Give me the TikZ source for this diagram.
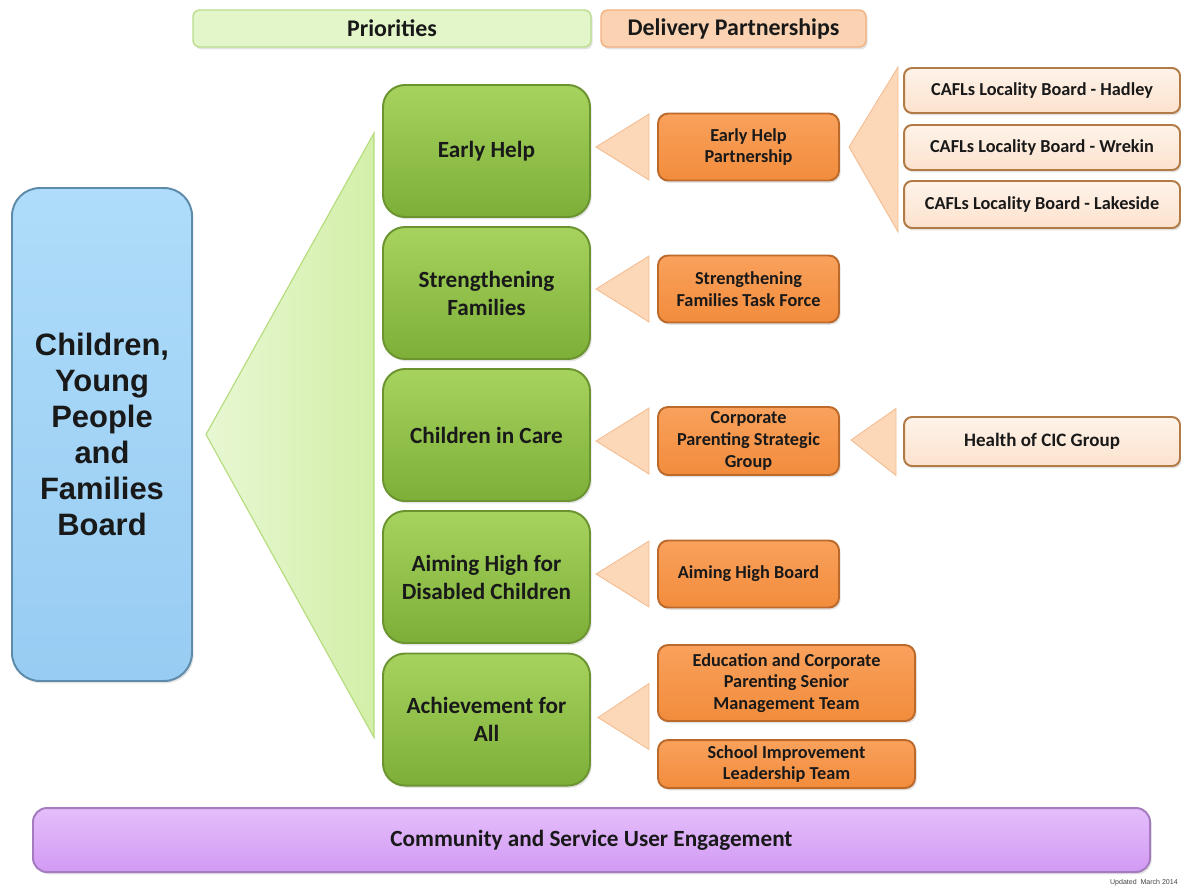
\documentclass[tikz,border=0pt]{standalone}
\usepackage{fontspec}
\setmainfont{Carlito}
\newfontfamily\boardfont{Liberation Sans}
\usetikzlibrary{calc,shadows}

\definecolor{hdrGreen}{HTML}{E3F6C9}
\definecolor{hdrGreenLine}{HTML}{B9DD8C}
\definecolor{hdrPeach}{HTML}{FBD3B2}
\definecolor{hdrPeachLine}{HTML}{F2B180}
\definecolor{boardTop}{HTML}{AEDCFA}
\definecolor{boardBot}{HTML}{98CCF2}
\definecolor{boardLine}{HTML}{5E8BAA}
\definecolor{prioTop}{HTML}{A6D35E}
\definecolor{prioBot}{HTML}{7DAF38}
\definecolor{prioLine}{HTML}{6B9430}
\definecolor{fanLight}{HTML}{E8F7D3}
\definecolor{fanDark}{HTML}{D3EFA8}
\definecolor{fanLine}{HTML}{B4DC7C}
\definecolor{partTop}{HTML}{F9A15C}
\definecolor{partBot}{HTML}{F28C3C}
\definecolor{partLine}{HTML}{BC6A2C}
\definecolor{wedgeFill}{HTML}{FCD7B8}
\definecolor{wedgeLine}{HTML}{F3BC90}
\definecolor{localTop}{HTML}{FEF3EA}
\definecolor{localBot}{HTML}{FCE2CD}
\definecolor{localLine}{HTML}{B27A45}
\definecolor{engTop}{HTML}{E4BEFA}
\definecolor{engBot}{HTML}{D29AF4}
\definecolor{engLine}{HTML}{A57BC0}

% one unit of the picture
\def\u{0.025cm}

\tikzset{
    box/.style={align=center, text=black!90, line width=1.4pt,
        drop shadow={opacity=.22, shadow xshift=1.2pt, shadow yshift=-1.6pt}},
    header/.style={box, line width=1pt, rounded corners=0.17cm, minimum height=37*\u,
        font=\fontsize{17}{20}\selectfont\bfseries},
    board/.style={box, draw=boardLine, top color=boardTop, bottom color=boardBot,
        rounded corners=0.7cm, minimum width=180*\u, minimum height=493*\u,
        font=\boardfont\fontsize{22}{25.5}\selectfont\bfseries},
    prio/.style={box, draw=prioLine, top color=prioTop, bottom color=prioBot,
        rounded corners=0.55cm, minimum width=207*\u, minimum height=132*\u,
        font=\fontsize{16.5}{20}\selectfont\bfseries},
    partner/.style={box, draw=partLine, top color=partTop, bottom color=partBot,
        rounded corners=0.25cm, minimum width=181*\u, minimum height=67*\u,
        font=\fontsize{13}{15.5}\selectfont\bfseries},
    local/.style={box, draw=localLine, top color=localTop, bottom color=localBot,
        rounded corners=0.2cm, minimum width=276*\u, minimum height=46*\u,
        font=\fontsize{13}{15.5}\selectfont\bfseries},
    wedge/.style={fill=wedgeFill, draw=wedgeLine, line width=0.6pt}
}

\begin{document}
\begin{tikzpicture}[x=0.025cm, y=-0.025cm]
    \useasboundingbox (0,0) rectangle (1181,889);

    % column headers
    \node[header, fill=hdrGreen, draw=hdrGreenLine, minimum width=398*\u] (prio) at (392,28.5) {Priorities};
    \node[header, fill=hdrPeach, draw=hdrPeachLine, minimum width=265*\u] (deliv) at (733.5,28.5) {Delivery Partnerships};

    % the board
    \node[board] (board) at (102,434.5) {Children,\\Young\\People\\and\\Families\\Board};

    % priorities
    \foreach \y/\name/\txt in {151/eh/Early Help, 293/sf/Strengthening\\Families,
        435/cic/Children in Care, 577/ah/Aiming High for\\Disabled Children,
        719.5/afa/Achievement for\\All} {
        \node[prio] (\name) at (486.5,\y) {\txt};
    }

    % green fan from the board to the priorities
    \shadedraw[left color=fanLight, right color=fanDark, draw=fanLine, line width=0.8pt]
        ($(board.east)+(13,0)$) -- ($(eh.west)+(-8,-18)$) -- ($(afa.west)+(-8,18)$) -- cycle;

    % delivery partnerships
    \node[partner] (ehp) at (748.5,147) {Early Help\\Partnership};
    \node[partner] (sfp) at (748.5,289) {Strengthening\\Families Task Force};
    \node[partner, minimum height=68*\u] (cps) at (748.5,441) {Corporate\\Parenting Strategic\\Group};
    \node[partner] (ahb) at (748.5,574) {Aiming High Board};
    \node[partner, minimum width=257*\u, minimum height=76*\u] (edu) at (786.5,683) {Education and Corporate\\Parenting Senior\\Management Team};
    \node[partner, minimum width=257*\u, minimum height=48*\u] (sil) at (786.5,764) {School Improvement\\Leadership Team};

    % locality boards and sub groups
    \node[local, minimum height=45*\u] (hadley) at (1042,90.5) {CAFLs Locality Board - Hadley};
    \node[local, minimum height=45*\u] (wrekin) at (1042,147.5) {CAFLs Locality Board - Wrekin};
    \node[local, minimum height=47*\u] (lakeside) at (1042,204.5) {CAFLs Locality Board - Lakeside};
    \node[local, minimum height=49*\u, font=\fontsize{13.5}{16}\selectfont\bfseries] (hcic) at (1042,441.5) {Health of CIC Group};

    % wedges between priorities and partnerships
    \foreach \a/\b in {eh/ehp, sf/sfp, cic/cps, ah/ahb} {
        \filldraw[wedge] ($(\a.east |- \b.west)+(5,0)$) -- ($(\b.west)+(-8,-33)$) -- ($(\b.west)+(-8,33)$) -- cycle;
    }
    \filldraw[wedge] ($(afa.east)+(7,-2)$) -- ($(afa.east -| edu.west)+(-8,-36)$) -- ($(afa.east -| edu.west)+(-8,30)$) -- cycle;

    % wedges out to the locality boards and the health group
    \filldraw[wedge] ($(ehp.east)+(9,0)$) -- ($(hadley.north west)+(-5,0)$) -- ($(lakeside.south west)+(-5,3)$) -- cycle;
    \filldraw[wedge] ($(cps.east)+(11,-1)$) -- ($(hcic.west)+(-7,-33)$) -- ($(hcic.west)+(-7,34)$) -- cycle;

    % engagement bar
    \node[box, draw=engLine, top color=engTop, bottom color=engBot, rounded corners=0.35cm,
        minimum width=1117*\u, minimum height=64*\u, font=\fontsize{16.5}{20}\selectfont\bfseries]
        (eng) at (591.5,840) {Community and Service User Engagement};

    \node[anchor=east, inner sep=0pt, font=\boardfont\fontsize{5}{6}\selectfont, text=black!75] (upd) at (1178,883) {Updated\ \ March 2014};
\end{tikzpicture}
\end{document}
